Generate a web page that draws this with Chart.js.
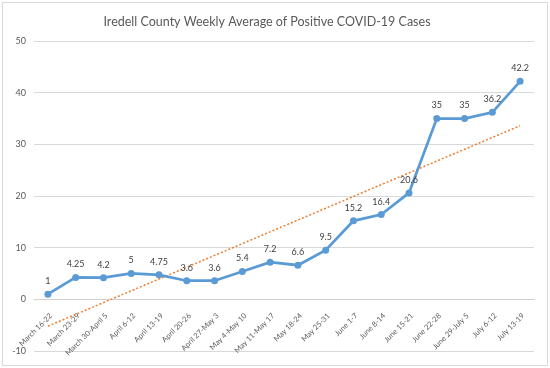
<!DOCTYPE html>
<html>
<head>
<meta charset="utf-8">
<script src="https://cdn.jsdelivr.net/npm/chart.js@4.4.0/dist/chart.umd.min.js"></script>
<style>
    html, body { margin: 0; padding: 0; background: #fff; }
    #wrap { width: 550px; height: 368px; }
</style>
</head>
<body>
<div id="wrap"><canvas id="casesChart" width="550" height="368"></canvas></div>
<script>
// Weekly average of positive cases
const weeks = ['March 16-22', 'March 23-29', 'March 30-April 5', 'April 6-12', 'April 13-19',
    'April 20-26', 'April 27-May 3', 'May 4-May 10', 'May 11-May 17', 'May 18-24', 'May 25-31',
    'June 1-7', 'June 8-14', 'June 15-21', 'June 22-28', 'June 29-July 5', 'July 6-12', 'July 13-19'];
const avgCases = [1, 4.25, 4.2, 5, 4.75, 3.6, 3.6, 5.4, 7.2, 6.6, 9.5, 15.2, 16.4, 20.6, 35, 35, 36.2, 42.2];
const yMin = -10;
const yMax = 50;
const yStep = 10;

const FONT = 'Lato';
const TEXT_GREY = '#595959';

// least squares line, same as the Excel linear trendline
function linearTrend(values) {
    const n = values.length;
    const meanX = (n - 1) / 2;
    const meanY = values.reduce((a, b) => a + b, 0) / n;
    let sxy = 0, sxx = 0;
    values.forEach((v, i) => {
        sxy += (i - meanX) * (v - meanY);
        sxx += (i - meanX) * (i - meanX);
    });
    const slope = sxy / sxx;
    return values.map((v, i) => meanY + slope * (i - meanX));
}

// values written above each point
const pointLabels = {
    id: 'pointLabels',
    afterDatasetsDraw(chart) {
        const ctx = chart.ctx;
        const meta = chart.getDatasetMeta(0);
        ctx.save();
        ctx.font = '9px ' + FONT;
        ctx.fillStyle = '#404040';
        ctx.textAlign = 'center';
        ctx.textBaseline = 'middle';
        meta.data.forEach((pt, i) => {
            ctx.fillText(String(avgCases[i]), pt.x, pt.y - 13);
        });
        ctx.restore();
    }
};

// white background and the thin frame round the chart
const frame = {
    id: 'frame',
    beforeDraw(chart) {
        const ctx = chart.ctx;
        ctx.save();
        ctx.fillStyle = '#fff';
        ctx.fillRect(0, 0, chart.width, chart.height);
        ctx.strokeStyle = '#d9d9d9';
        ctx.lineWidth = 1;
        ctx.strokeRect(2.5, 2.5, chart.width - 5, chart.height - 5);
        ctx.restore();
    }
};

const ctx = document.getElementById('casesChart').getContext('2d');
new Chart(ctx, {
    type: 'line',
    data: {
        labels: weeks,
        datasets: [
            {
                label: 'Weekly average',
                data: avgCases,
                borderColor: '#5b9bd5',
                backgroundColor: '#5b9bd5',
                borderWidth: 2.75,
                pointRadius: 3.5,
                pointBorderWidth: 0,
                tension: 0
            },
            {
                label: 'Linear trend',
                data: linearTrend(avgCases),
                borderColor: '#ed7d31',
                borderWidth: 1.5,
                borderDash: [2, 2],
                pointRadius: 0,
                tension: 0
            }
        ]
    },
    options: {
        responsive: false,
        animation: false,
        events: [],
        layout: { padding: { left: 0, right: 16, top: 0, bottom: 17 } },
        plugins: {
            legend: { display: false },
            tooltip: { enabled: false },
            title: {
                display: true,
                text: 'Iredell County Weekly Average of Positive COVID-19 Cases',
                color: TEXT_GREY,
                font: { family: FONT, size: 12.5, weight: 'normal' },
                padding: { top: 14, bottom: 12 }
            }
        },
        scales: {
            x: {
                position: { y: 0 },
                offset: true,
                grid: { display: false },
                border: { display: true, color: '#d0d0d0', width: 1 },
                ticks: {
                    autoSkip: false,
                    minRotation: 45,
                    maxRotation: 45,
                    padding: 4,
                    labelOffset: 3,
                    color: TEXT_GREY,
                    font: { family: FONT, size: 7.5 }
                },
                afterFit(scale) {
                    // labels hang over the plot, so the axis takes no room
                    scale.height = 0;
                    scale.paddingLeft = 0;
                    scale.paddingRight = 0;
                }
            },
            y: {
                min: yMin,
                max: yMax,
                grid: { color: '#d9d9d9', lineWidth: 1, drawTicks: false },
                border: { display: false },
                ticks: {
                    stepSize: yStep,
                    padding: 8,
                    color: TEXT_GREY,
                    font: { family: FONT, size: 9 }
                },
                afterFit(scale) {
                    scale.width = 34;
                }
            }
        }
    },
    plugins: [frame, pointLabels]
});
</script>
</body>
</html>
